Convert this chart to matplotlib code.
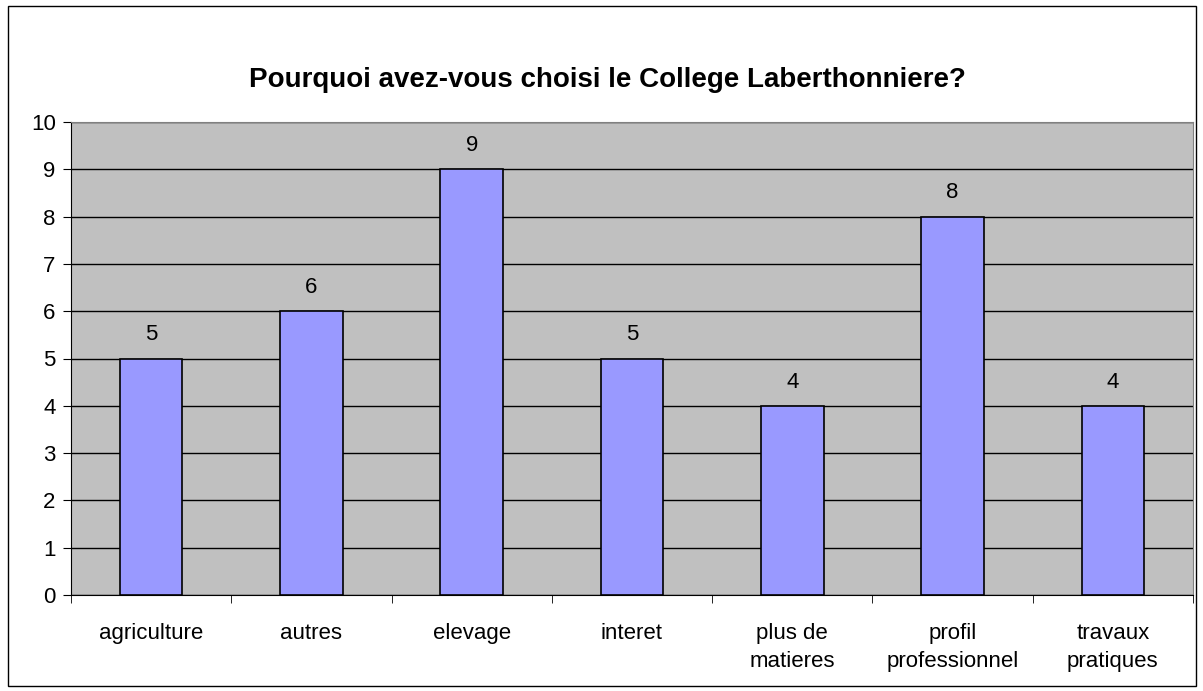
import matplotlib
matplotlib.use('Agg')
import matplotlib.pyplot as plt
from matplotlib.patches import Rectangle

# data
categories = ["agriculture", "autres", "elevage", "interet",
              "plus de\nmatieres", "profil\nprofessionnel", "travaux\npratiques"]
counts = [5, 6, 9, 5, 4, 8, 4]

plt.rcParams['font.family'] = ['Liberation Sans', 'DejaVu Sans']

fig = plt.figure(figsize=(12.03, 6.91), dpi=100)
fig.patches.append(Rectangle((8/1203, 5/691), 1188/1203, 680/691, transform=fig.transFigure,
                             fill=False, edgecolor='black', linewidth=1))

ax = fig.add_axes([71/1203, 1 - 595/691, 1122/1203, 473/691])
ax.set_facecolor('#C0C0C0')

x = list(range(len(categories)))
ax.bar(x, counts, width=0.39, color='#9999FF', edgecolor='black', linewidth=1.2, zorder=3)
for xi, c in zip(x, counts):
    ax.text(xi, c + 0.5, str(c), ha='center', va='center', fontsize=16)

ax.set_xlim(-0.5, len(categories) - 0.5)
ax.set_ylim(0, 10)
ax.set_yticks(range(0, 11))
ax.yaxis.grid(True, color='black', linewidth=1)
ax.set_axisbelow(True)

ax.set_xticks(x)
ax.set_xticklabels(categories, fontsize=16, linespacing=1.45)
ax.set_xticks([i - 0.5 for i in range(len(categories) + 1)], minor=True)
ax.tick_params(axis='x', which='major', length=0, pad=20)
ax.tick_params(axis='x', which='minor', length=6, direction='out', color='black')
ax.tick_params(axis='y', length=6, labelsize=16, pad=5)

ax.spines['left'].set_color('black')
ax.spines['bottom'].set_color('black')
ax.spines['top'].set_color('#808080')
ax.spines['right'].set_color('#808080')

fig.text(0.505, 1 - 80/691, "Pourquoi avez-vous choisi le College Laberthonniere?",
         ha='center', va='center', fontsize=20, fontweight='bold')

fig.savefig('out.png')
